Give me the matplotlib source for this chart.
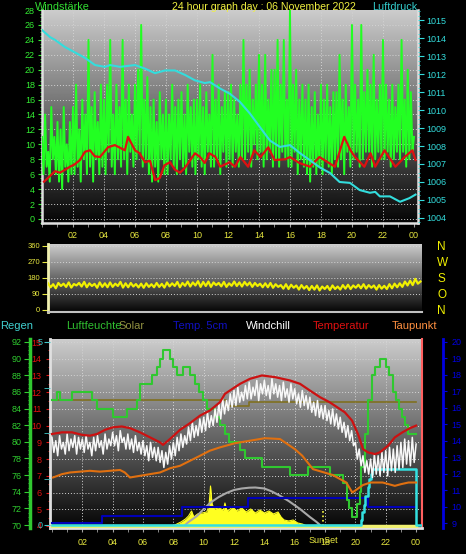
import numpy as np
import matplotlib
matplotlib.use('Agg')
import matplotlib.pyplot as plt
from matplotlib.ticker import MultipleLocator

plt.rcParams['font.family'] = ['Liberation Sans', 'DejaVu Sans']

# ---------------- data ----------------
hour_ticks = [2, 4, 6, 8, 10, 12, 14, 16, 18, 20, 22, 24]
hour_labels = ['02', '04', '06', '08', '10', '12', '14', '16', '18', '20', '22', '00']

# wind gusts (10 values per hour)
gust = [11,6,14,7,9,5,15,8,11,6,
        13,5,12,4,15,7,10,5,13,6,
        15,6,18,7,12,5,16,8,14,6,
        24,7,15,5,17,8,13,6,18,7,
        16,6,18,9,24,7,14,6,18,8,
        15,7,24,8,16,6,18,9,14,7,
        18,8,20,9,26,7,16,8,19,6,
        15,5,16,7,13,5,17,8,14,6,
        16,6,14,8,18,7,15,6,16,8,
        17,7,14,6,18,9,15,7,16,6,
        16,8,18,7,15,6,17,9,14,7,
        22,7,16,8,18,6,15,9,17,7,
        17,8,18,7,16,9,14,7,18,8,
        24,8,18,9,20,7,16,10,18,8,
        22,9,18,7,22,8,16,9,20,7,
        20,8,24,7,18,9,24,8,16,7,
        28,7,18,9,20,6,16,8,18,7,
        16,6,18,5,15,7,17,6,14,7,
        18,6,16,8,18,7,15,6,17,8,
        17,7,22,8,16,6,18,9,15,7,
        26,8,18,9,16,7,26,8,17,9,
        20,9,18,7,22,8,16,9,18,8,
        24,8,18,9,16,7,18,8,15,9,
        18,8,24,9,16,7,20,8,17,9,
        11]

wind_avg_t = [0.13, 0.84, 1.16, 1.5, 1.8, 2.1, 2.45, 2.77, 3.1, 3.4, 3.74, 4.26, 4.7, 5.35, 5.55,
              6.0, 6.3, 6.65, 6.97, 7.3, 7.6, 7.9, 8.26, 8.58, 8.9, 9.2, 9.87, 10.2, 10.5, 10.8,
              11.2, 11.5, 12.1, 12.45, 12.8, 13.3, 13.7, 14.1, 14.6, 15.0, 15.7, 16.0, 16.6, 17.3,
              17.9, 18.9, 19.5, 19.9, 20.2, 20.8, 21.2, 21.5, 22.1, 22.8, 23.4, 23.9, 24.1]
wind_avg = [5.0, 6.4, 6.2, 6.6, 7.0, 7.3, 7.9, 9.0, 9.2, 8.4, 8.3, 9.6, 9.9, 9.2, 11.0,
            9.2, 8.8, 7.6, 7.8, 5.2, 5.5, 7.2, 7.6, 6.6, 6.2, 6.8, 8.8, 8.3, 7.5, 8.8,
            8.3, 7.0, 7.6, 7.0, 8.3, 7.0, 9.2, 8.3, 9.6, 7.9, 8.0, 8.3, 7.5, 7.0,
            8.3, 7.0, 11.0, 9.2, 8.3, 7.0, 8.8, 7.0, 9.2, 7.0, 8.3, 9.2, 7.9]

press_t = [0, 0.52, 0.84, 1.48, 2.13, 2.77, 3.42, 4.06, 4.39, 5.03, 6.0, 6.65, 7.29, 7.94, 8.58,
           9.23, 9.87, 10.5, 10.84, 11.48, 12.13, 12.77, 13.42, 14.06, 14.71, 15.35, 16.0, 16.65,
           17.3, 17.94, 18.58, 19.2, 19.87, 20.5, 21.16, 21.5, 21.8, 22.45, 23.1, 23.7, 24.1]
press = [1014.45, 1014.05, 1013.9, 1013.5, 1013.2, 1012.9, 1012.5, 1012.4, 1012.5, 1012.4, 1012.5,
         1012.3, 1012.05, 1012.2, 1012.2, 1011.95, 1011.65, 1011.5, 1011.55, 1011.2, 1010.9, 1010.45,
         1009.8, 1009.05, 1008.3, 1007.95, 1008.05, 1007.6, 1007.2, 1006.8, 1006.5, 1006.0, 1005.95,
         1005.55, 1005.4, 1005.45, 1005.2, 1005.2, 1004.9, 1005.1, 1005.3]

# wind direction (6 values per hour)
wdir = [150,128,145,122,152,135, 148,130,155,126,146,138, 152,132,158,128,150,135,
        147,125,155,130,150,128, 155,130,148,135,158,126, 150,128,152,132,146,127,
        148,125,150,130,145,128, 152,130,147,126,155,133, 150,135,158,128,152,136,
        160,132,155,138,162,130, 158,135,160,130,155,140, 152,133,158,130,150,136,
        160,135,155,132,158,138, 155,130,152,135,148,128, 150,128,152,125,145,130,
        140,120,145,118,142,125, 138,115,140,120,135,112, 135,115,138,110,132,118,
        135,112,138,118,132,115, 140,120,142,118,138,125, 142,122,145,120,140,125,
        138,115,140,120,136,118, 145,122,148,128,150,130, 160,138,165,140,175,148, 160]
dir_ticks = [0, 90, 180, 270, 360]
dir_names = ['N', 'O', 'S', 'W', 'N']

temp_t = [0, 0.66, 1.32, 1.98, 2.5, 2.97, 3.5, 4.02, 4.6, 5.14, 5.8, 6.46, 7.12, 7.32, 7.78, 8.44,
          9.1, 9.76, 10.4, 11.07, 11.4, 12.06, 12.4, 13.05, 13.84, 14.7, 15.69, 16.35, 17.0, 17.67,
          18.3, 19.3, 19.78, 20.17, 20.5, 20.83, 21.3, 21.6, 22.15, 22.6, 23.1, 23.6, 24.0]
temp = [9.5, 9.6, 9.6, 9.45, 9.4, 9.5, 9.75, 9.9, 9.95, 9.85, 9.6, 9.3, 9.0, 8.85, 9.2, 9.75,
        10.15, 10.6, 10.9, 11.4, 11.9, 12.3, 12.5, 12.8, 13.0, 12.9, 12.7, 12.5, 12.1, 11.7,
        11.4, 10.8, 10.3, 9.5, 8.6, 8.4, 8.3, 8.4, 8.8, 9.3, 9.6, 9.85, 10.0]

dew_t = [0.07, 0.66, 1.19, 1.85, 2.5, 3.16, 3.82, 4.48, 4.8, 5.14, 5.47, 5.8, 6.46, 7.12, 7.78,
         8.44, 9.1, 9.76, 10.4, 11.07, 12.06, 13.05, 14.04, 15.03, 16.0, 16.5, 17.2, 18.5, 19.4,
         19.8, 20.5, 21.0, 21.8, 22.6, 23.0, 23.5, 24.0]
dew = [6.9, 7.1, 7.2, 7.25, 7.3, 7.25, 7.3, 7.35, 7.2, 6.9, 6.95, 7.0, 7.1, 7.2, 7.45,
       7.6, 7.9, 8.2, 8.5, 8.7, 8.95, 9.1, 9.25, 9.2, 8.6, 8.2, 7.4, 7.05, 6.6,
       6.0, 6.45, 6.6, 6.6, 6.4, 6.5, 6.6, 6.6]

# windchill (8 values per hour)
windchill = [9.3,8.4,9.1,8.2,9.4,8.6,9.0,8.3, 9.5,8.5,9.2,8.7,9.4,8.3,9.3,8.6,
             9.2,8.4,9.4,8.6,9.0,8.2,9.3,8.5, 9.4,8.7,9.1,8.3,9.5,8.6,9.2,8.8,
             9.6,8.8,9.4,8.5,9.7,9.0,9.3,8.6, 9.5,8.6,9.2,8.4,9.4,8.5,9.0,8.3,
             9.1,8.2,8.8,7.9,9.0,8.1,8.7,7.9, 8.7,7.8,8.5,7.5,8.4,7.7,8.8,8.0,
             9.0,8.2,9.3,8.5,9.5,8.7,9.4,8.9, 9.9,9.1,10.2,9.3,10.0,9.4,10.4,9.6,
             10.5,9.7,10.8,9.9,10.6,10.0,11.0,10.2, 11.3,10.4,11.6,10.7,11.5,10.9,11.9,11.1,
             12.1,11.2,12.3,11.4,12.0,11.5,12.4,11.6, 12.6,11.6,12.3,11.8,12.7,11.5,12.5,11.9,
             12.7,11.8,12.4,11.6,12.8,11.9,12.5,11.7, 12.4,11.5,12.6,11.7,12.2,11.4,12.5,11.6,
             12.2,11.3,11.9,11.1,12.1,11.2,11.8,11.0, 11.7,10.8,11.4,10.6,11.5,10.5,11.2,10.4,
             11.2,10.3,10.9,10.1,11.0,10.0,10.7,9.8, 10.5,9.6,10.2,9.3,10.0,9.1,9.7,8.8,
             9.0,8.0,8.6,7.6,8.2,7.2,7.9,7.1, 8.0,6.9,8.3,7.1,8.2,7.0,8.4,7.2,
             8.5,7.0,8.7,7.3,8.6,7.2,8.8,7.4, 9.0,7.5,9.2,7.7,9.1,7.6,9.3,7.8, 8.9]

hum_t = [0, 0.33, 0.53, 1.32, 2.64, 2.97, 4.02, 4.94, 5.6, 5.8, 6.6, 6.92, 7.12, 7.32, 7.78, 7.98,
         8.24, 8.64, 9.1, 9.43, 9.69, 9.95, 10.2, 10.75, 11.07, 11.4, 11.7, 12.4, 12.7, 13.85, 15.7,
         16.9, 18.3, 19.2, 19.45, 19.6, 19.8, 20.1, 20.3, 20.4, 20.6, 20.8, 21.1, 21.3, 21.6, 22.0,
         22.2, 22.5, 22.7, 22.9, 23.1, 23.3, 23.5, 24.0]
hum = [85, 86, 85, 86, 85, 84, 83, 84, 85, 87, 88, 89, 90, 91, 90, 89,
       88, 89, 88, 87, 86, 85, 84, 83, 82, 81, 80, 79, 78, 77, 76,
       77, 76, 75, 73, 72, 71, 72.5, 74, 77, 81, 85, 88, 89, 90, 89,
       88, 86, 85, 84, 83, 82, 81, 81]

solar_line_t = [0, 11.5, 13.0, 24.0]
solar_line = [85.0, 84.3, 84.8, 84.8]

soil_t = [0, 3.3, 8.6, 12.9, 20.8, 24.0]
soil = [9.0, 9.4, 10.0, 10.5, 10.0, 10.0]

rain_t = [0, 20.35, 20.45, 20.55, 20.65, 20.8, 20.9, 21.0, 21.1, 24.0, 24.3]
rain = [0, 0.15, 0.35, 0.55, 0.8, 1.05, 1.25, 1.4, 1.53, 0, 0]

solar_t = [8.1, 8.5, 8.8, 9.0, 9.2, 9.35, 9.6, 9.9, 10.2, 10.35, 10.45, 10.55, 10.7, 11.0, 11.3,
           11.4, 11.5, 11.6, 11.9, 12.2, 12.5, 12.8, 13.1, 13.4, 13.7, 14.0, 14.3, 14.6, 14.9, 15.1,
           15.3, 15.6, 15.9, 16.2, 16.5, 16.8]
solar = [1, 4, 7, 10, 15, 9, 12, 13, 14, 20, 40, 22, 17, 18, 16,
         23, 17, 15, 19, 15, 18, 14, 17, 13, 16, 13, 15, 12, 14, 9,
         6, 5, 6, 3, 2, 0]

sunarc_t = [8.7, 9.0, 9.56, 10.0, 10.5, 11.0, 11.5, 12.0, 12.5, 13.0, 13.4, 14.0, 14.5, 15.0, 15.6,
            16.35, 17.0, 17.4, 17.75]
sunarc = [0, 4, 10, 17, 24, 29, 33, 36, 37.5, 38.3, 38.5, 37.5, 34.5, 30.5, 25, 17, 9, 4.5, 0]

sunset_hour = 17.86

# ---------------- layout helpers ----------------
W, H = 466, 554
PX = 72 / 100  # points per pixel
def box(l, t, r, b):
    return [l / W, 1 - b / H, (r - l) / W, (b - t) / H]

def gradient(ax):
    g = np.linspace(0.02, 0.80, 256).reshape(-1, 1)
    ax.imshow(g, extent=[0, 1, 0, 1], transform=ax.transAxes, origin='lower', cmap='gray',
              vmin=0, vmax=1, aspect='auto', zorder=0, interpolation='bilinear')

GRID = dict(color='#d4d4d4', ls=(0, (1, 2)), lw=0.7, zorder=1)
YEL = '#e8e840'
fig = plt.figure(figsize=(W / 100, H / 100), dpi=100, facecolor='black')

# ---------------- panel 1: wind / pressure ----------------
ax1 = fig.add_axes(box(42, 10, 418, 223))
gradient(ax1)
ax1.set_xlim(0, 24.26)
ax1.set_ylim(-0.54, 28)
for v in range(2, 24, 2):
    ax1.axvline(v, **GRID)
for v in range(0, 28, 2):
    ax1.axhline(v, **GRID)
ax1.plot(np.linspace(0, 24, len(gust)), gust, color='#22ff22', lw=1.4, zorder=3)
ax1.plot(wind_avg_t, wind_avg, color='#dd1111', lw=1.6, zorder=4)
ax1.set_yticks(range(0, 29, 2))
ax1.yaxis.set_minor_locator(MultipleLocator(0.5))
ax1.tick_params(axis='y', which='both', colors='#33ee33', labelsize=6.5, pad=2)
ax1.tick_params(axis='y', which='major', length=3)
ax1.tick_params(axis='y', which='minor', length=1.5)
ax1.set_xticks(hour_ticks)
ax1.set_xticklabels(hour_labels)
ax1.xaxis.set_minor_locator(MultipleLocator(1))
ax1.tick_params(axis='x', which='both', color='#a0a0a0', labelcolor=YEL, labelsize=6.5, length=3, pad=2.5)
ax1.spines['top'].set_visible(False)
for s in ['left', 'bottom', 'right']:
    ax1.spines[s].set_color('#e0e0e0')
    ax1.spines[s].set_linewidth(1.8)

axp = ax1.twinx()
axp.plot(press_t, press, color='#33dddd', lw=1.5, zorder=5)
axp.set_ylim(1003.72, 1015.56)
axp.set_yticks(range(1004, 1016))
axp.yaxis.set_minor_locator(MultipleLocator(0.25))
axp.tick_params(axis='y', which='both', colors='#33dddd', labelsize=6.5, pad=2)
axp.tick_params(axis='y', which='major', length=4)
axp.tick_params(axis='y', which='minor', length=1.5)
for s in axp.spines.values():
    s.set_visible(False)

fig.text(35 / W, 1 - 7 / H, 'Windstärke', color='#33dd33', fontsize=7.8, va='center', ha='left')
fig.text(172 / W, 1 - 7 / H, '24 hour graph day : 06 November 2022', color='#f0f040', fontsize=7.6,
         va='center', ha='left')
fig.text(372 / W, 1 - 7 / H, 'Luftdruck', color='#33cccc', fontsize=7.8, va='center', ha='left')

# ---------------- panel 2: wind direction ----------------
ax2 = fig.add_axes(box(48, 244, 422, 312))
gradient(ax2)
ax2.set_xlim(0, 24.1)
ax2.set_ylim(-11.25, 371)
for v in [90, 180, 270, 360]:
    ax2.axhline(v, **GRID)
ax2.plot(np.linspace(0, 24, len(wdir)), wdir, color='#f0f000', lw=1.6, zorder=3)
ax2.set_yticks(dir_ticks)
ax2.tick_params(axis='y', colors=YEL, labelsize=5.5, length=4, pad=1.5)
ax2.set_xticks([])
ax2.spines['top'].set_visible(False)
ax2.spines['right'].set_visible(False)
ax2.spines['left'].set_color('#f0f0b0')
ax2.spines['left'].set_linewidth(2)
ax2.spines['bottom'].set_color('#c0c0c0')
ax2.spines['bottom'].set_linewidth(1.5)
axd = ax2.twinx()
axd.set_ylim(-11.25, 371)
axd.set_yticks(dir_ticks)
axd.set_yticklabels(dir_names)
axd.tick_params(axis='y', length=0, labelcolor='#f0f000', labelsize=8.5, pad=11)
for s in axd.spines.values():
    s.set_visible(False)

# ---------------- legend row ----------------
for x, txt, c in [(0, 'Regen', '#40d0d0'), (66, 'Luftfeuchte', '#30c030'), (118, 'Solar', '#909040'),
                  (173, 'Temp. 5cm', '#1010c0'), (246, 'Windchill', '#ffffff'),
                  (313, 'Temperatur', '#e01010'), (392, 'Taupunkt', '#ff9040')]:
    fig.text(x / W, 1 - 326 / H, txt, color=c, fontsize=8, va='center', ha='left')

# ---------------- panel 3: temperatures etc. ----------------
XL = (-0.13, 24.39)
TL = (3.88, 15.18)
ax3 = fig.add_axes(box(50, 339, 422, 528))
gradient(ax3)
ax3.set_xlim(*XL)
ax3.set_ylim(*TL)
for v in range(2, 24, 2):
    ax3.axvline(v, **GRID)
for v in range(5, 16):
    ax3.axhline(v, **GRID)
ax3.yaxis.tick_right()
ax3.set_yticks(range(4, 16))
ax3.yaxis.set_minor_locator(MultipleLocator(0.5))
ax3.tick_params(axis='y', which='both', colors='#e01010', labelsize=6.5, pad=3)
ax3.tick_params(axis='y', which='major', length=3)
ax3.tick_params(axis='y', which='minor', length=1.5)
ax3.set_xticks(hour_ticks)
ax3.set_xticklabels(hour_labels)
ax3.xaxis.set_minor_locator(MultipleLocator(1))
ax3.tick_params(axis='x', which='both', color='#a0a0a0', labelcolor=YEL, labelsize=6.5, length=3, pad=4)
ax3.spines['top'].set_visible(False)
ax3.spines['left'].set_color('#e0e0e0')
ax3.spines['left'].set_linewidth(2)
ax3.spines['bottom'].set_color('#e0e0e0')
ax3.spines['bottom'].set_linewidth(2)
ax3.spines['right'].set_color('#ff6060')
ax3.spines['right'].set_linestyle((0, (1, 1)))
ax3.spines['right'].set_linewidth(1.5)
ax3.annotate('SunSet', xy=(sunset_hour, 0), xycoords=('data', 'axes fraction'), xytext=(0, -6),
             textcoords='offset points', ha='center', va='top', color=YEL, fontsize=6.5)

def twin():
    a = ax3.twinx()
    a.set_xlim(*XL)
    for s in a.spines.values():
        s.set_visible(False)
    a.set_yticks([])
    return a

# solar
axs = twin()
axs.set_ylim(-2, 187)
axs.fill_between(solar_t, 0, solar, color='#ffff20', lw=0, zorder=2)
axs.plot(solar_t, solar, color='#ffff20', lw=0.8, zorder=2)
axs.plot(sunarc_t, sunarc, color='#a8a8a8', lw=1.5, zorder=3)
axs.plot([sunset_hour, sunset_hour], [0, 15], color='#ffff40', ls=':', lw=1.2, zorder=3)
axs.plot([0, 24.0], [0, 0], color='#f0f070', lw=2.5, zorder=3)

# soil temp (blue)
axb = twin()
axb.set_ylim(8.70, 20.18)
axb.step(soil_t, soil, where='post', color='#0000b8', lw=1.5)
axb.spines['right'].set_visible(True)
axb.spines['right'].set_position(('outward', 21 * PX))
axb.spines['right'].set_color('#0000e0')
axb.spines['right'].set_linewidth(2)
axb.set_yticks(range(9, 21))
axb.tick_params(axis='y', colors='#0000e0', labelsize=6.5, length=3, pad=3)

# humidity
axh = twin()
axh.set_ylim(69.64, 92.36)
axh.plot(solar_line_t, solar_line, color='#807020', lw=1.2, drawstyle='steps-post')
axh.step(hum_t, hum, where='post', color='#30c830', lw=1.5)
axh.yaxis.tick_left()
axh.spines['left'].set_visible(True)
axh.spines['left'].set_position(('outward', 20 * PX))
axh.spines['left'].set_color('#30c830')
axh.spines['left'].set_linewidth(2.5)
axh.set_yticks(range(70, 93, 2))
axh.yaxis.set_minor_locator(MultipleLocator(0.5))
axh.tick_params(axis='y', which='both', colors='#30d030', labelsize=6.5, pad=2)
axh.tick_params(axis='y', which='major', length=4)
axh.tick_params(axis='y', which='minor', length=1.5)

# rain
axr = twin()
axr.set_ylim(-0.082, 5.08)
axr.step(rain_t, rain, where='post', color='#33e0e0', lw=1.8)
axr.yaxis.tick_left()
axr.set_yticks([0, 5])
axr.set_yticks([1.25, 2.5, 3.75], minor=True)
axr.tick_params(axis='y', which='both', colors='#40c8c8', labelsize=6.5, length=4, pad=1)

# temperatures
axt = twin()
axt.set_ylim(*TL)
axt.plot(dew_t, dew, color='#e07010', lw=1.5)
axt.plot(np.linspace(0, 24, len(windchill)), windchill, color='#f8f8f8', lw=1.1)
axt.plot(temp_t, temp, color='#cc1111', lw=1.6)

fig.savefig('out.png', dpi=100, facecolor='black')
